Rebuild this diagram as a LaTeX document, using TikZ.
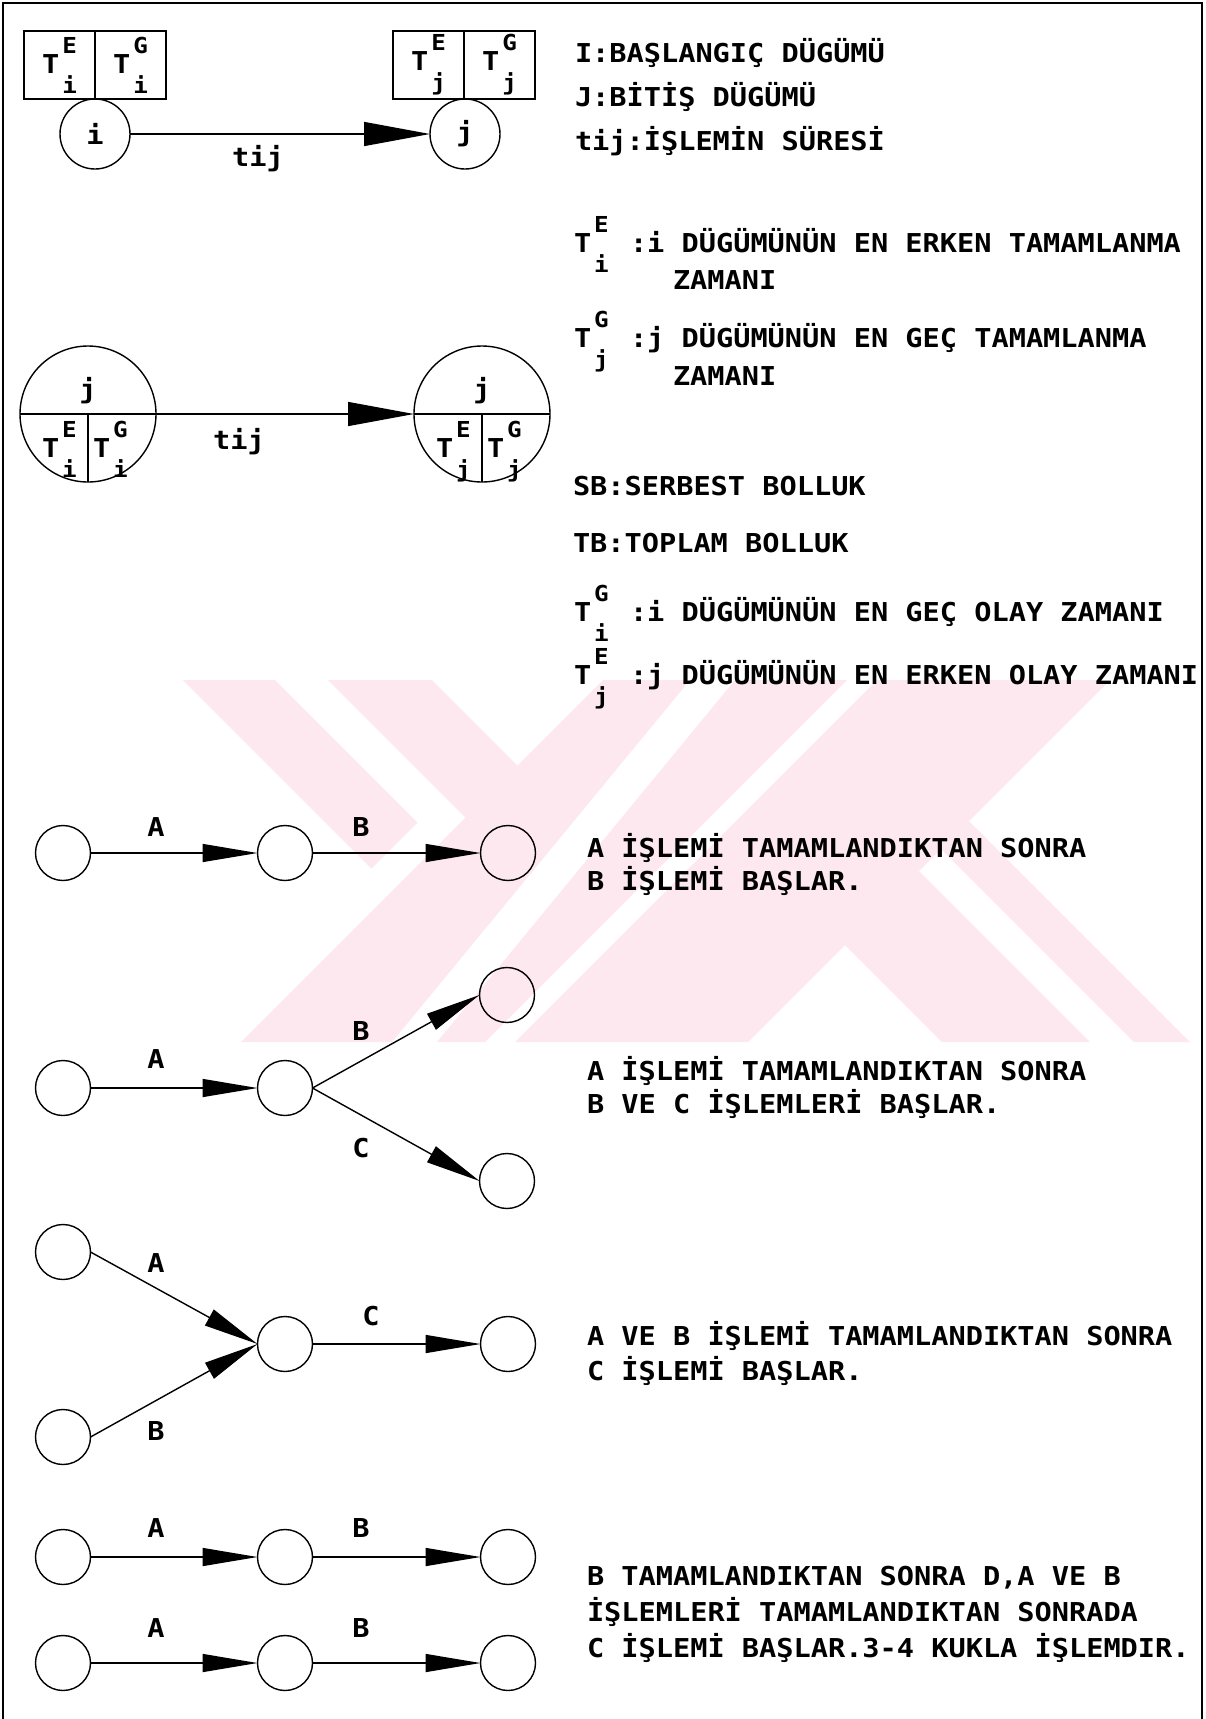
\documentclass[tikz,border=0pt]{standalone}
\usepackage{fontspec}
\usetikzlibrary{arrows.meta}
\newfontfamily\tw[FakeStretch=1.1]{DejaVu Sans Mono}
\definecolor{wm}{RGB}{252,232,238}
\newcommand\Tsx[2]{T\kern3pt\rlap{\raisebox{20pt}{\fontsize{22}{22}\selectfont #1}}\raisebox{-20pt}{\fontsize{22}{22}\selectfont #2}}
\tikzset{
  tf/.style={font=\tw\bfseries\fontsize{26}{30}\selectfont},
  txt/.style={tf, inner sep=0, outer sep=0, anchor=base west},
  lbl/.style={tf, inner sep=0, outer sep=0, anchor=base},
  ev/.style={circle, draw, line width=1.4pt, minimum size=55pt, inner sep=0, outer sep=0},
  bigev/.style={circle, draw, line width=1.4pt, inner sep=0, outer sep=0},
  cell/.style={draw, line width=1.3pt, tf, minimum width=71pt, minimum height=68pt, inner sep=0, outer sep=0},
  act/.style={line width=1.4pt, -{Triangle[length=55pt,width=18pt]}},
  bigact/.style={line width=1.4pt, -{Triangle[length=66pt,width=24pt]}},
  thin/.style={line width=1.3pt},
}
\begin{document}
\begin{tikzpicture}[x=1pt,y=-1pt]
\useasboundingbox (0,0) rectangle (1205,1719);
% watermark
\begin{scope}[fill=wm]
  \fill (183,680) -- (275,680) -- (417.5,822.5) -- (371.5,868.5) -- cycle;
  \fill (328,680) -- (432,680) -- (517.5,765.5) -- (465.5,817.5) -- cycle;
  \fill (603,680) -- (690,680) -- (392,1042) -- (241,1042) -- cycle;
  \fill (735,680) -- (847,680) -- (485,1042) -- (437,1042) -- cycle;
  \fill (877,680) -- (1110,680) -- (748,1042) -- (515,1042) -- cycle;
  \fill (845,945) -- (919,871) -- (1090,1042) -- (942,1042) -- cycle;
  \fill (941,849) -- (969,821) -- (1190,1042) -- (1134,1042) -- cycle;
\end{scope}
% frame
\draw[line width=1.5pt] (3,1719) -- (3,3) -- (1202,3) -- (1202,1719);

% ---- top diagram
\node[cell] (bi1) at (59.5,65) {\Tsx{E}{i}};
\node[cell] (bi2) at (130.5,65) {\Tsx{G}{i}};
\node[cell] (bj1) at (428.5,65) {\Tsx{E}{j}};
\node[cell] (bj2) at (499.5,65) {\Tsx{G}{j}};
\node[bigev, tf, minimum size=70pt] (ni) at (95,134) {i};
\node[bigev, tf, minimum size=70pt] (nj) at (465,134) {j};
\draw[bigact] (ni.east) -- (nj.west);
\node[lbl] (tij1) at (258,166) {tij};

% ---- second diagram
\node[bigev, minimum size=136pt] (L) at (88,414) {};
\node[bigev, minimum size=136pt] (R) at (482,414) {};
\draw[thin] (L.west) -- (L.east);
\draw[thin] (L.center) -- (L.south);
\draw[thin] (R.west) -- (R.east);
\draw[thin] (R.center) -- (R.south);
\draw[bigact] (L.east) -- (R.west);
\node[lbl] (Lj) at (88,398) {j};
\node[lbl] (Rj) at (482,398) {j};
\node[txt] (LTE) at (42,457) {\Tsx{E}{i}};
\node[txt] (LTG) at (93,457) {\Tsx{G}{i}};
\node[txt] (RTE) at (436,457) {\Tsx{E}{j}};
\node[txt] (RTG) at (487,457) {\Tsx{G}{j}};
\node[lbl] (tij2) at (239,449) {tij};

% ---- right column
\node[txt] (d1) at (575,62) {I:BAŞLANGIÇ DÜGÜMÜ};
\node[txt] (d2) at (575,106) {J:BİTİŞ DÜGÜMÜ};
\node[txt] (d3) at (575,150) {tij:İŞLEMİN SÜRESİ};
\node[txt] (t1) at (574,252) {\Tsx{E}{i}};
\node[txt] (d4) at (630,252) {:i DÜGÜMÜNÜN EN ERKEN TAMAMLANMA};
\node[txt] (d4b) at (673,289) {ZAMANI};
\node[txt] (t2) at (574,347) {\Tsx{G}{j}};
\node[txt] (d5) at (630,347) {:j DÜGÜMÜNÜN EN GEÇ TAMAMLANMA};
\node[txt] (d5b) at (673,385) {ZAMANI};
\node[txt] (d6) at (573,495) {SB:SERBEST BOLLUK};
\node[txt] (d7) at (573,552) {TB:TOPLAM BOLLUK};
\node[txt] (t3) at (574,621) {\Tsx{G}{i}};
\node[txt] (d8) at (630,621) {:i DÜGÜMÜNÜN EN GEÇ OLAY ZAMANI};
\node[txt] (t4) at (574,684) {\Tsx{E}{j}};
\node[txt] (d9) at (630,684) {:j DÜGÜMÜNÜN EN ERKEN OLAY ZAMANI};

% ---- serial
\node[ev] (s1) at (63,853) {};
\node[ev] (s2) at (285,853) {};
\node[ev] (s3) at (508,853) {};
\draw[act] (s1) -- (s2);
\draw[act] (s2) -- (s3);
\node[lbl] (sA) at (156,836) {A};
\node[lbl] (sB) at (361,836) {B};
\node[txt] (e1) at (587,857) {A İŞLEMİ TAMAMLANDIKTAN SONRA};
\node[txt] (e2) at (587,890) {B İŞLEMİ BAŞLAR.};

% ---- branch
\node[ev] (b1) at (63,1088) {};
\node[ev] (b2) at (285,1088) {};
\node[ev] (b3) at (507,995) {};
\node[ev] (b4) at (507,1181) {};
\draw[act] (b1) -- (b2);
\draw[act] (b2.east) -- (b3.west);
\draw[act] (b2.east) -- (b4.west);
\node[lbl] (bA) at (156,1068) {A};
\node[lbl] (bB) at (361,1040) {B};
\node[lbl] (bC) at (361,1157) {C};
\node[txt] (f1) at (587,1080) {A İŞLEMİ TAMAMLANDIKTAN SONRA};
\node[txt] (f2) at (587,1113) {B VE C İŞLEMLERİ BAŞLAR.};

% ---- merge
\node[ev] (m1) at (63,1252) {};
\node[ev] (m2) at (63,1437) {};
\node[ev] (m3) at (285,1344) {};
\node[ev] (m4) at (508,1344) {};
\draw[act] (m1.east) -- (m3.west);
\draw[act] (m2.east) -- (m3.west);
\draw[act] (m3) -- (m4);
\node[lbl] (mA) at (156,1272) {A};
\node[lbl] (mB) at (156,1440) {B};
\node[lbl] (mC) at (371,1325) {C};
\node[txt] (g1) at (587,1345) {A VE B İŞLEMİ TAMAMLANDIKTAN SONRA};
\node[txt] (g2) at (587,1380) {C İŞLEMİ BAŞLAR.};

% ---- two rows
\node[ev] (p1) at (63,1557) {};
\node[ev] (p2) at (285,1557) {};
\node[ev] (p3) at (508,1557) {};
\draw[act] (p1) -- (p2);
\draw[act] (p2) -- (p3);
\node[lbl] (pA) at (156,1537) {A};
\node[lbl] (pB) at (361,1537) {B};
\node[ev] (q1) at (63,1663) {};
\node[ev] (q2) at (285,1663) {};
\node[ev] (q3) at (508,1663) {};
\draw[act] (q1) -- (q2);
\draw[act] (q2) -- (q3);
\node[lbl] (qA) at (156,1637) {A};
\node[lbl] (qB) at (361,1637) {B};
\node[txt] (h1) at (587,1585) {B TAMAMLANDIKTAN SONRA D,A VE B};
\node[txt] (h2) at (587,1621) {İŞLEMLERİ TAMAMLANDIKTAN SONRADA};
\node[txt] (h3) at (587,1657) {C İŞLEMİ BAŞLAR.3-4 KUKLA İŞLEMDIR.};
\end{tikzpicture}
\end{document}
